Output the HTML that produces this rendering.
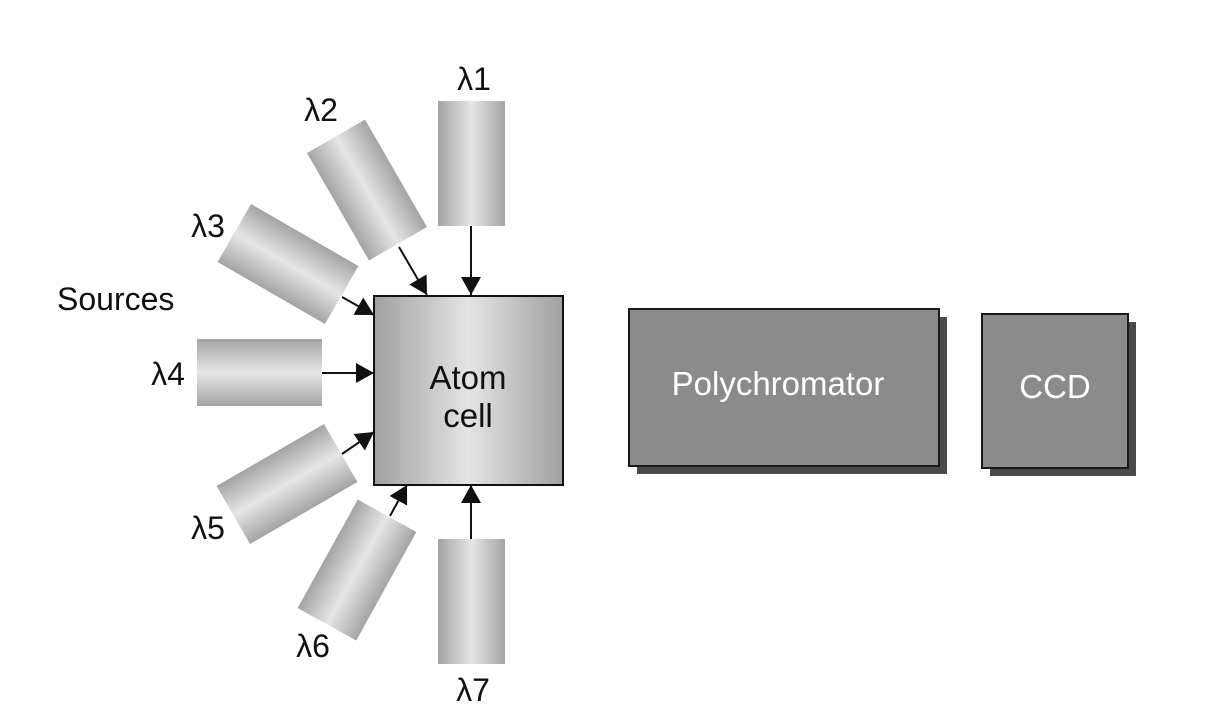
<!DOCTYPE html>
<html><head><meta charset="utf-8"><style>
html,body{margin:0;padding:0;background:#fff;}
svg{display:block;font-family:"Liberation Sans",Arial,sans-serif;}
</style></head><body>
<svg width="1226" height="708" viewBox="0 0 1226 708" xmlns="http://www.w3.org/2000/svg">
<defs>
<linearGradient id="gh" x1="0" y1="0" x2="1" y2="0">
<stop offset="0" stop-color="#a4a4a4"/><stop offset="0.5" stop-color="#e6e6e6"/><stop offset="1" stop-color="#a4a4a4"/>
</linearGradient>
<linearGradient id="gv" x1="0" y1="0" x2="0" y2="1">
<stop offset="0" stop-color="#a4a4a4"/><stop offset="0.5" stop-color="#e6e6e6"/><stop offset="1" stop-color="#a4a4a4"/>
</linearGradient>
<linearGradient id="ga" x1="0" y1="0" x2="1" y2="0">
<stop offset="0" stop-color="#a0a0a0"/><stop offset="0.5" stop-color="#e4e4e4"/><stop offset="1" stop-color="#a0a0a0"/>
</linearGradient>
<marker id="ar" markerWidth="18" markerHeight="20" refX="18" refY="10" orient="auto" markerUnits="userSpaceOnUse" viewBox="0 0 18 20">
<path d="M0,0 L18,10 L0,20 z" fill="#111"/>
</marker>
</defs>
<rect x="438" y="101" width="67" height="125" fill="url(#gh)"/>
<rect x="438" y="539" width="67" height="125" fill="url(#gh)"/>
<rect x="197" y="339" width="125" height="67" fill="url(#gv)"/>
<rect x="-33.5" y="-62" width="67" height="124" fill="url(#gh)" transform="translate(367,190) rotate(-30)"/>
<rect x="-62" y="-33.5" width="124" height="67" fill="url(#gv)" transform="translate(288,264) rotate(30)"/>
<rect x="-62" y="-33.5" width="124" height="67" fill="url(#gv)" transform="translate(287,484) rotate(-30)"/>
<rect x="-33.5" y="-62" width="67" height="124" fill="url(#gh)" transform="translate(357,570) rotate(29)"/>
<rect x="374" y="296" width="189" height="189" fill="url(#ga)" stroke="#111" stroke-width="2"/>
<text x="468" y="389" font-size="33" text-anchor="middle" fill="#111">Atom</text>
<text x="468" y="427" font-size="33" text-anchor="middle" fill="#111">cell</text>
<g stroke="#111" stroke-width="2" marker-end="url(#ar)">
<line x1="471" y1="226" x2="471" y2="295"/>
<line x1="399" y1="247" x2="427" y2="295"/>
<line x1="342" y1="297" x2="374" y2="315"/>
<line x1="322" y1="373" x2="374" y2="373"/>
<line x1="342" y1="454" x2="374" y2="432"/>
<line x1="390" y1="516" x2="407" y2="485"/>
<line x1="471" y1="539" x2="471" y2="485"/>
</g>
<rect x="637" y="317" width="310" height="157" fill="#4a4a4a"/>
<rect x="629" y="309" width="310" height="157" fill="#8c8b8c" stroke="#1a1a1a" stroke-width="2"/>
<text x="778" y="395" font-size="33" text-anchor="middle" fill="#fff">Polychromator</text>
<rect x="990" y="322" width="146" height="154" fill="#4a4a4a"/>
<rect x="982" y="314" width="146" height="154" fill="#8c8b8c" stroke="#1a1a1a" stroke-width="2"/>
<text x="1055" y="398" font-size="33" text-anchor="middle" fill="#fff">CCD</text>
<g font-size="32" fill="#111">
<text x="57" y="310">Sources</text>
<text x="474" y="90" text-anchor="middle">λ1</text>
<text x="321" y="121" text-anchor="middle">λ2</text>
<text x="208" y="237" text-anchor="middle">λ3</text>
<text x="168" y="385" text-anchor="middle">λ4</text>
<text x="208" y="539" text-anchor="middle">λ5</text>
<text x="313" y="657" text-anchor="middle">λ6</text>
<text x="473" y="701" text-anchor="middle">λ7</text>
</g>
</svg>
</body></html>
